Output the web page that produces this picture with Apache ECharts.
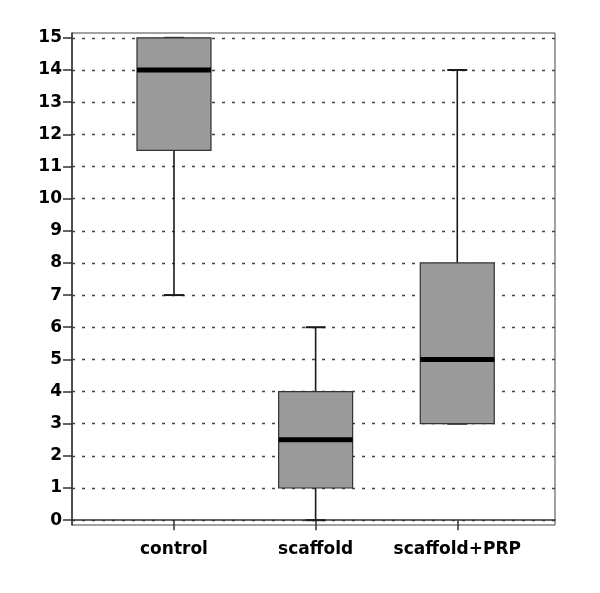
<!DOCTYPE html>
<html>
<head>
<meta charset="utf-8">
<script src="https://cdn.jsdelivr.net/npm/echarts@6/dist/echarts.min.js"></script>
<style>
  html, body { margin: 0; padding: 0; background: #fff; }
  #chart { width: 600px; height: 593px; }
</style>
</head>
<body>
<div id="chart"></div>
<script>
  // groups and box statistics
  var groups = ['control', 'scaffold', 'scaffold+PRP'];
  var lowWhisker = [7, 0, 3];
  var q1 = [11.5, 1, 3];
  var medians = [14, 2.5, 5];
  var q3 = [15, 4, 8];
  var highWhisker = [15, 6, 14];
  var yTicks = [0, 1, 2, 3, 4, 5, 6, 7, 8, 9, 10, 11, 12, 13, 14, 15];
  var xTicks = [1, 2, 3];

  var boxData = groups.map(function (g, i) {
    return [i + 1, lowWhisker[i], q1[i], medians[i], q3[i], highWhisker[i]];
  });

  var chart = echarts.init(document.getElementById('chart'));

  function renderBox(params, api) {
    var x = api.value(0);
    var lo = api.coord([x, api.value(1)]);
    var b1 = api.coord([x, api.value(2)]);
    var md = api.coord([x, api.value(3)]);
    var b3 = api.coord([x, api.value(4)]);
    var hi = api.coord([x, api.value(5)]);
    var hw = 37, cap = 10;
    var lineStyle = { stroke: '#1a1a1a', lineWidth: 1.6 };
    return {
      type: 'group',
      children: [
        { type: 'line', shape: { x1: lo[0], y1: lo[1], x2: b1[0], y2: b1[1] }, style: lineStyle },
        { type: 'line', shape: { x1: b3[0], y1: b3[1], x2: hi[0], y2: hi[1] }, style: lineStyle },
        { type: 'line', shape: { x1: lo[0] - cap, y1: lo[1], x2: lo[0] + cap, y2: lo[1] }, style: { stroke: '#1a1a1a', lineWidth: 2 } },
        { type: 'line', shape: { x1: hi[0] - cap, y1: hi[1], x2: hi[0] + cap, y2: hi[1] }, style: { stroke: '#1a1a1a', lineWidth: 2 } },
        { type: 'rect', shape: { x: b3[0] - hw, y: b3[1], width: hw * 2, height: b1[1] - b3[1] },
          style: { fill: '#9a9a9a', stroke: '#333', lineWidth: 1.2 } },
        { type: 'line', shape: { x1: md[0] - hw, y1: md[1], x2: md[0] + hw, y2: md[1] },
          style: { stroke: '#000', lineWidth: 5 } }
      ]
    };
  }

  chart.setOption({
    animation: false,
    backgroundColor: '#fff',
    grid: {
      left: 72, right: 45, top: 33, bottom: 68,
      show: true, borderColor: '#444', borderWidth: 1
    },
    xAxis: {
      type: 'value',
      min: 0.28,
      max: 3.69,
      axisLine: { show: true, lineStyle: { color: '#333', width: 1.5 } },
      axisTick: { show: true, customValues: xTicks, length: 10, lineStyle: { color: '#333', width: 1.5 } },
      axisLabel: {
        customValues: xTicks,
        margin: 16,
        fontFamily: 'DejaVu Sans',
        fontWeight: 'bold',
        fontSize: 17,
        color: '#000',
        formatter: function (v) { return groups[Math.round(v) - 1] || ''; }
      },
      splitLine: { show: false }
    },
    yAxis: {
      type: 'value',
      min: -0.15,
      max: 15.15,
      axisLine: { show: true, lineStyle: { color: '#333', width: 1.5 } },
      axisTick: { show: true, customValues: yTicks, length: 9, lineStyle: { color: '#333', width: 1.5 } },
      axisLabel: {
        customValues: yTicks,
        margin: 10,
        padding: [10, 0, 0, 0],
        fontFamily: 'DejaVu Sans',
        fontWeight: 'bold',
        fontSize: 17,
        color: '#000'
      },
      splitLine: { show: true, lineStyle: { color: '#444', width: 1.4, type: [3, 7] } }
    },
    series: [{
      type: 'custom',
      renderItem: renderBox,
      data: boxData,
      encode: { x: 0, y: [1, 2, 3, 4, 5] }
    }]
  });
</script>
</body>
</html>
